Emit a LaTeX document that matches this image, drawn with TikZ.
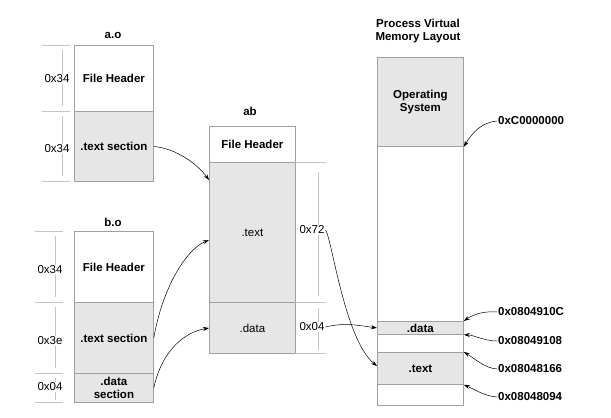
\documentclass[tikz,border=0pt]{standalone}
\usepackage{fontspec}
\setmainfont{Liberation Sans}
\usetikzlibrary{arrows.meta}
\definecolor{boxline}{HTML}{A0A0A0}
\definecolor{tickline}{HTML}{C4C4C4}
\definecolor{secfill}{HTML}{E6E6E6}
\tikzset{
  seg/.style={draw=boxline, line width=0.8pt, rectangle, inner sep=0pt, anchor=north west, align=center, font=\fontsize{11.5}{13}\selectfont\bfseries},
  segfill/.style={seg, fill=secfill},
  tick/.style={draw=tickline, line width=0.8pt},
  sizelbl/.style={fill=white, inner sep=1pt, font=\fontsize{11.5}{13}\selectfont},
  title/.style={font=\fontsize{11.5}{13}\selectfont\bfseries, align=center},
  addr/.style={font=\fontsize{11.5}{13}\selectfont\bfseries, anchor=west, inner sep=1pt},
  conn/.style={-{Stealth[length=6pt,width=4pt]}, line width=0.5pt, black}
}
\begin{document}
\begin{tikzpicture}[x=1pt,y=-1pt]
\useasboundingbox (0,0) rectangle (611,418);
% ---------- a.o ----------
\node[title] (aotitle) at (113,35) {a.o};
\node[seg, minimum width=79pt, minimum height=66pt] (aofh) at (74,45) {File Header};
\node[segfill, minimum width=79pt, minimum height=70pt] (aotext) at (74,111) {.text section};
\draw[tick] (42,45) -- (70,45) (42,111) -- (70,111) (42,181) -- (70,181);
\draw[tick] (62,50) -- (62,106) (62,116) -- (62,176);
\node[sizelbl] (aos1) at (57,79) {0x34};
\node[sizelbl] (aos2) at (57,149) {0x34};
% ---------- b.o ----------
\node[title] (botitle) at (113,222) {b.o};
\node[seg, minimum width=79pt, minimum height=71pt] (bofh) at (74,231) {File Header};
\node[segfill, minimum width=79pt, minimum height=71pt] (botext) at (74,302) {.text section};
\node[segfill, minimum width=79pt, minimum height=29pt, font=\fontsize{11.5}{12.5}\selectfont\bfseries] (bodata) at (74,373) {.data\\section};
\draw[tick] (35,231) -- (63,231) (35,302) -- (63,302) (35,373) -- (63,373) (35,402) -- (63,402);
\draw[tick] (55,236) -- (55,297) (55,307) -- (55,368) (55,378) -- (55,400);
\node[sizelbl] (bos1) at (50,270) {0x34};
\node[sizelbl] (bos2) at (50,341) {0x3e};
\node[sizelbl] (bos3) at (50,387) {0x04};
% ---------- ab ----------
\node[title] (abtitle) at (250,111) {ab};
\node[seg, minimum width=86pt, minimum height=36pt] (abfh) at (209,126) {File Header};
\node[segfill, minimum width=86pt, minimum height=140pt, font=\fontsize{11.5}{13}\selectfont] (abtext) at (209,162) {.text};
\node[segfill, minimum width=86pt, minimum height=51pt, font=\fontsize{11.5}{13}\selectfont] (abdata) at (209,302) {.data};
\draw[tick] (295,162) -- (326,162) (295,302) -- (326,302) (295,353) -- (326,353);
\draw[tick] (318,172) -- (318,296) (318,308) -- (318,350);
\node[sizelbl] (abs1) at (312,230) {0x72};
\node[sizelbl] (abs2) at (312,327) {0x04};
% ---------- process layout ----------
\node[title] (pvtitle) at (418,31) {Process Virtual\\Memory Layout};
\node[segfill, minimum width=86pt, minimum height=89pt] (os) at (377,57) {Operating\\System};
\node[seg, minimum width=86pt, minimum height=175pt] (gap1) at (377,146) {};
\node[segfill, minimum width=86pt, minimum height=13pt, font=\fontsize{11.5}{13}\selectfont\bfseries] (pvdata) at (377,321) {.data};
\node[seg, minimum width=86pt, minimum height=18pt] (gap2) at (377,334) {};
\node[segfill, minimum width=86pt, minimum height=32pt] (pvtext) at (377,352) {.text};
\node[seg, minimum width=86pt, minimum height=21pt] (gap3) at (377,384) {};
% addresses
\node[addr] (a1) at (497,121) {0xC0000000};
\node[addr] (a2) at (497,312) {0x0804910C};
\node[addr] (a3) at (497,341) {0x08049108};
\node[addr] (a4) at (497,369) {0x08048166};
\node[addr] (a5) at (497,397) {0x08048094};
\draw[conn] (a1.west) .. controls (482,122) and (472,133) .. (os.south east);
\draw[conn] (a2.west) .. controls (484,311) and (474,314) .. (pvdata.north east);
\draw[conn] (a3.west) .. controls (484,341) and (474,335) .. (pvdata.south east);
\draw[conn] (a4.west) .. controls (484,368) and (474,358) .. (pvtext.north east);
\draw[conn] (a5.west) .. controls (484,396) and (474,389) .. (pvtext.south east);
% ---------- connectors ----------
\coordinate (abin1) at (209,180);
\coordinate (abin2) at (209,240);
\coordinate (abin3) at (209,328);
\coordinate (pvin2) at (377,366);
\draw[conn] (aotext.east) .. controls (178,149) and (198,165) .. (abin1);
\draw[conn] (botext.east) .. controls (162,290) and (185,250) .. (abin2);
\draw[conn] (bodata.east) .. controls (162,350) and (185,332) .. (abin3);
\draw[conn] (abs2.east) .. controls (345,322) and (362,326) .. (pvdata.west);
\draw[conn] (abs1.east) .. controls (332,240) and (345,340) .. (pvin2);
\end{tikzpicture}
\end{document}
